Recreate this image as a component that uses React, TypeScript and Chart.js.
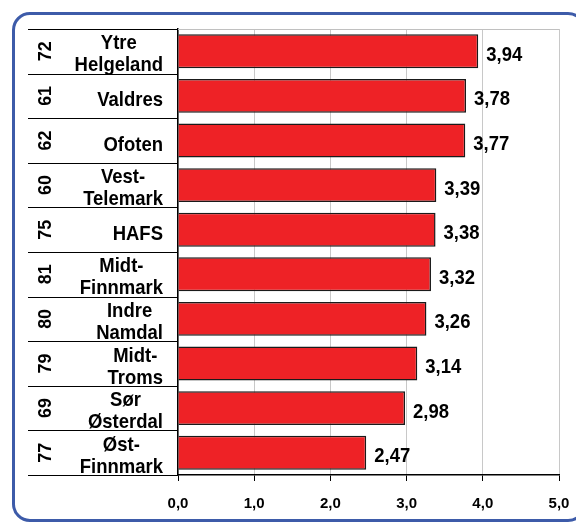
import React, { useEffect, useRef } from "react";
import { Chart, registerables } from "chart.js";

Chart.register(...registerables);

const codes = ["72", "61", "62", "60", "75", "81", "80", "79", "69", "77"];
const names: string[][] = [
  ["Ytre", "Helgeland"],
  ["Valdres"],
  ["Ofoten"],
  ["Vest-", "Telemark"],
  ["HAFS"],
  ["Midt-", "Finnmark"],
  ["Indre", "Namdal"],
  ["Midt-", "Troms"],
  ["Sør", "Østerdal"],
  ["Øst-", "Finnmark"],
];
const values = [3.94, 3.78, 3.77, 3.39, 3.38, 3.32, 3.26, 3.14, 2.98, 2.47];
const xMin = 0;
const xMax = 5;
const xStep = 1;

const FONT = '"Liberation Sans", Arial, sans-serif';

const fmt = (v: number, d: number) => v.toFixed(d).replace(".", ",");

function stretchText(ctx: any, text: string, x: number, y: number, sy: number) {
  ctx.save();
  ctx.translate(x, y);
  ctx.scale(1, sy);
  ctx.fillText(text, 0, 0);
  ctx.restore();
}

const labelsPlugin = {
  id: "customLabels",
  beforeDatasetsDraw(chart: any) {
    const { ctx, chartArea } = chart;
    ctx.save();
    ctx.strokeStyle = "#c0c0c0";
    ctx.lineWidth = 1;
    ctx.beginPath();
    ctx.moveTo(chartArea.left, chartArea.top + 0.5);
    ctx.lineTo(chartArea.right, chartArea.top + 0.5);
    ctx.stroke();
    ctx.restore();
  },
  afterDraw(chart: any) {
    const { ctx, chartArea } = chart;
    const yScale = chart.scales.y;
    const n = codes.length;
    const h = (chartArea.bottom - chartArea.top) / n;
    ctx.save();
    ctx.strokeStyle = "#000";
    ctx.lineWidth = 1;
    for (let i = 0; i <= n; i++) {
      const y = Math.round(chartArea.top + i * h) + 0.5;
      ctx.beginPath();
      ctx.moveTo(28, y);
      ctx.lineTo(chartArea.left, y);
      ctx.stroke();
    }
    ctx.fillStyle = "#000";
    for (let i = 0; i < n; i++) {
      const cy = yScale.getPixelForValue(i);
      ctx.save();
      ctx.font = `bold 17px ${FONT}`;
      ctx.translate(45.5, cy);
      ctx.rotate(-Math.PI / 2);
      ctx.scale(1.05, 1.1);
      ctx.textAlign = "center";
      ctx.textBaseline = "middle";
      ctx.fillText(codes[i], 0, 0);
      ctx.restore();

      ctx.font = `bold 18.5px ${FONT}`;
      ctx.textAlign = "center";
      ctx.textBaseline = "alphabetic";
      const lines = names[i];
      const w = Math.max(...lines.map((l) => ctx.measureText(l).width));
      const right = 163;
      const cx = right - w / 2;
      if (lines.length === 1) {
        stretchText(ctx, lines[0], cx, cy + 10, 1.1);
      } else {
        stretchText(ctx, lines[0], cx, cy - 2, 1.1);
        stretchText(ctx, lines[1], cx, cy + 20, 1.1);
      }
    }
    const meta = chart.getDatasetMeta(0);
    ctx.font = `bold 18.5px ${FONT}`;
    ctx.textAlign = "left";
    ctx.textBaseline = "alphabetic";
    meta.data.forEach((bar: any, i: number) => {
      stretchText(ctx, fmt(values[i], 2), bar.x + 8, bar.y + 9.5, 1.1);
    });
    ctx.restore();
  },
};

export default function App() {
  const ref = useRef<HTMLCanvasElement | null>(null);
  useEffect(() => {
    if (!ref.current) return;
    const chart = new Chart(ref.current, {
      type: "bar",
      data: {
        labels: names.map((l) => l.join(" ")),
        datasets: [
          {
            data: values,
            backgroundColor: "#ee2226",
            borderColor: "#1a1a1a",
            borderWidth: 1.5,
            barPercentage: 0.76,
            categoryPercentage: 1,
          },
        ],
      },
      options: {
        indexAxis: "y",
        responsive: false,
        animation: false,
        events: [],
        layout: { padding: { top: 29, right: 17, bottom: 0, left: 0 } },
        plugins: {
          legend: { display: false },
          tooltip: { enabled: false },
        },
        scales: {
          y: {
            type: "category",
            grid: { display: false },
            ticks: { display: false },
            border: { display: true, color: "#000", width: 1.5 },
            afterFit: (s: any) => {
              s.width = 178;
            },
          },
          x: {
            type: "linear",
            min: xMin,
            max: xMax,
            ticks: {
              stepSize: xStep,
              color: "#000",
              font: { family: FONT, size: 15, weight: "bold" },
              padding: 14,
              maxRotation: 0,
              callback: (v: any) => fmt(Number(v), 1),
            },
            grid: {
              color: "#c8c8c8",
              lineWidth: 1,
              tickColor: "#000",
              tickLength: 6,
            },
            border: { display: true, color: "#000", width: 1.5 },
            afterFit: (s: any) => {
              s.height = 47;
              s.paddingLeft = 0;
              s.paddingRight = 0;
            },
          },
        },
      },
      plugins: [labelsPlugin],
    } as any);
    return () => chart.destroy();
  }, []);

  return (
    <div
      style={{
        position: "fixed",
        left: 0,
        top: 0,
        width: 576,
        height: 522,
        overflow: "hidden",
        background: "#fff",
      }}
    >
      <div
        style={{
          position: "absolute",
          left: 12,
          top: 12,
          width: 574,
          height: 510,
          boxSizing: "border-box",
          border: "3px solid #3d5ba9",
          borderRadius: 18,
        }}
      />
      <canvas
        ref={ref}
        width={576}
        height={522}
        style={{ position: "absolute", left: 0, top: 0, width: 576, height: 522 }}
      />
    </div>
  );
}
